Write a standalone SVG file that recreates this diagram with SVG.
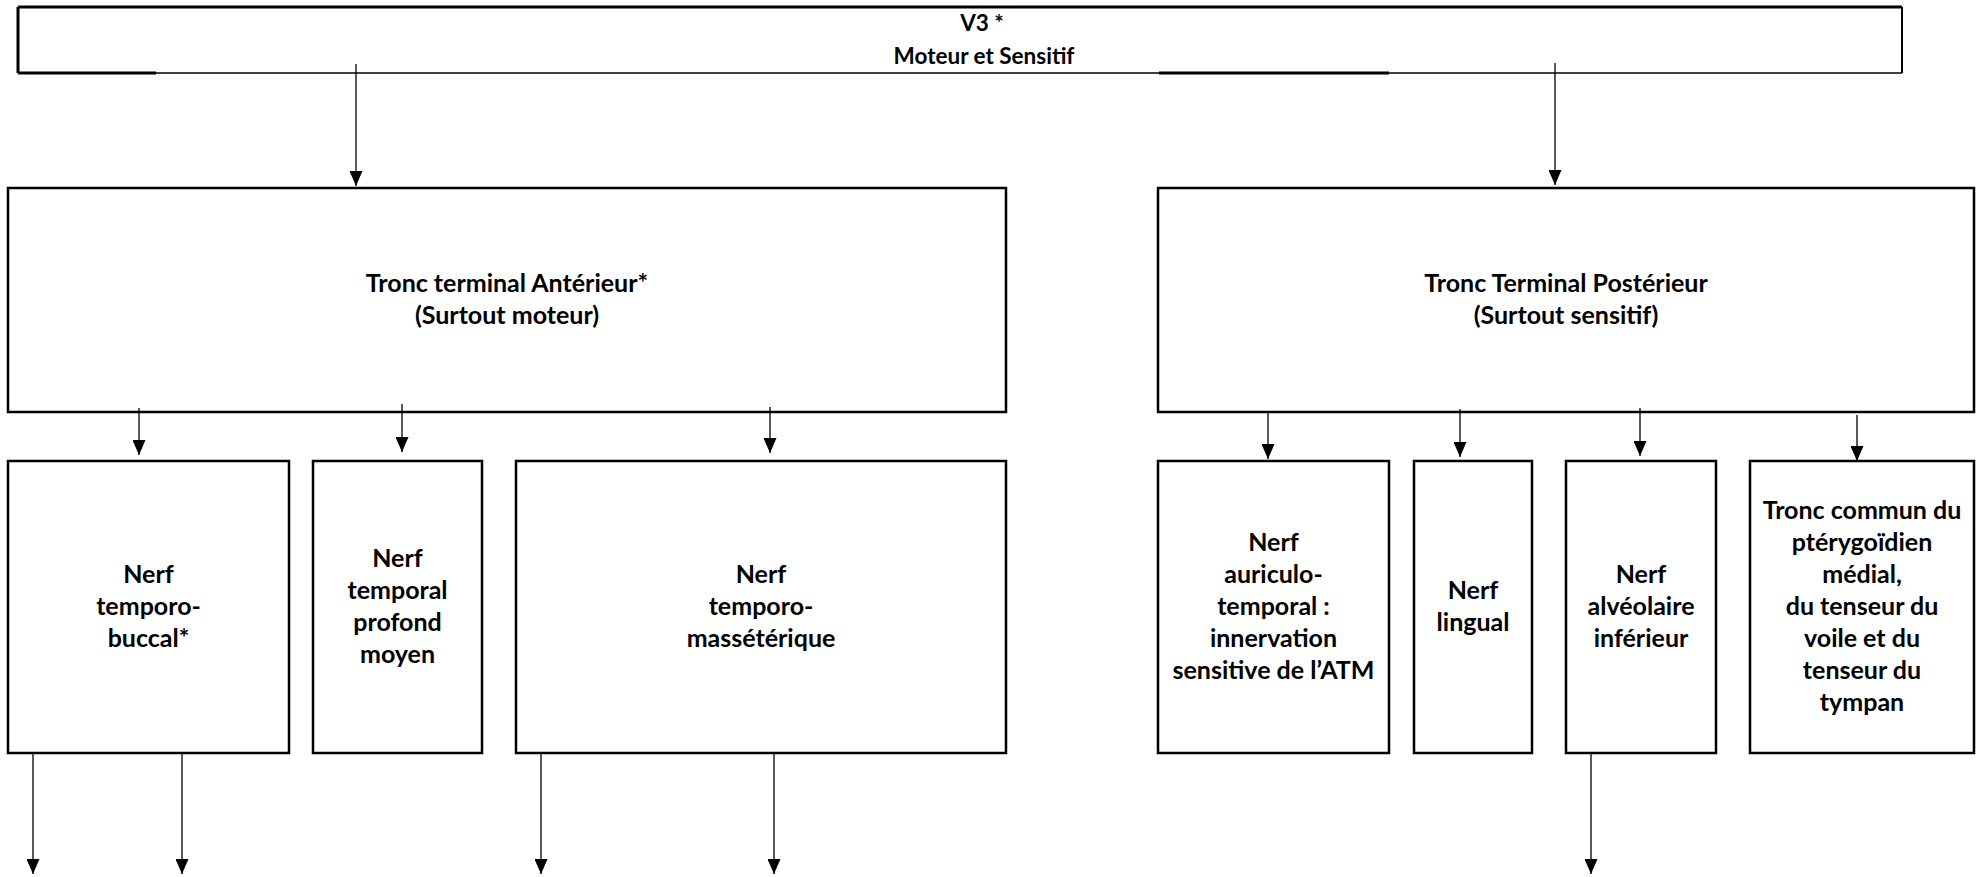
<svg xmlns="http://www.w3.org/2000/svg" width="1986" height="877" viewBox="0 0 1986 877">
<defs>
<marker id="arr" markerUnits="userSpaceOnUse" viewBox="0 0 15 13" refX="15" refY="6.5" markerWidth="15" markerHeight="13" orient="auto">
<path d="M0,0 L15,6.5 L0,13 z" fill="#000"/>
</marker>
<style>
.box{fill:#fff;stroke:#000;stroke-width:2.5}
.edge{fill:none;stroke:#000}
.t{font-family:Lato,"Open Sans","DejaVu Sans",sans-serif;font-weight:bold;font-size:25px;fill:#000;text-anchor:middle}
.tt{font-size:22.5px}
.c{fill:none;stroke:#000;stroke-width:1.3;marker-end:url(#arr)}
</style>
</defs>
<rect width="1986" height="877" fill="#fff"/>

<g id="n-v3">
<rect x="18" y="7" width="1884" height="66" fill="#fff"/>
<path class="edge" stroke-width="3" d="M18,7 H1902 M18,7 V73 M18,73 H156 M1159,73 H1389"/>
<path class="edge" stroke-width="2" d="M1902,7 V73"/>
<path class="edge" stroke-width="1.5" d="M156,73 H1902"/>
<text class="t tt" x="982" y="31">V3 *</text>
<text class="t tt" x="984" y="64">Moteur et Sensitif</text>
</g>

<g id="n-anterieur">
<rect class="box" x="8" y="188" width="998" height="224"/>
<text class="t" x="507" y="292">Tronc terminal Antérieur*</text>
<text class="t" x="507" y="324">(Surtout moteur)</text>
</g>

<g id="n-posterieur">
<rect class="box" x="1158" y="188" width="816" height="224"/>
<text class="t" x="1566" y="292">Tronc Terminal Postérieur</text>
<text class="t" x="1566" y="324">(Surtout sensitif)</text>
</g>

<g id="n-temporo-buccal">
<rect class="box" x="8" y="461" width="281" height="292"/>
<text class="t" x="148.5" y="583">Nerf</text>
<text class="t" x="148.5" y="615">temporo-</text>
<text class="t" x="148.5" y="647">buccal*</text>
</g>

<g id="n-temporal-profond">
<rect class="box" x="313" y="461" width="169" height="292"/>
<text class="t" x="397.5" y="567">Nerf</text>
<text class="t" x="397.5" y="599">temporal</text>
<text class="t" x="397.5" y="631">profond</text>
<text class="t" x="397.5" y="663">moyen</text>
</g>

<g id="n-temporo-masseterique">
<rect class="box" x="516" y="461" width="490" height="292"/>
<text class="t" x="761" y="583">Nerf</text>
<text class="t" x="761" y="615">temporo-</text>
<text class="t" x="761" y="647">massétérique</text>
</g>

<g id="n-auriculo-temporal">
<rect class="box" x="1158" y="461" width="231" height="292"/>
<text class="t" x="1273.5" y="551">Nerf</text>
<text class="t" x="1273.5" y="583">auriculo-</text>
<text class="t" x="1273.5" y="615">temporal :</text>
<text class="t" x="1273.5" y="647">innervation</text>
<text class="t" x="1273.5" y="679">sensitive de l’ATM</text>
</g>

<g id="n-lingual">
<rect class="box" x="1414" y="461" width="118" height="292"/>
<text class="t" x="1473" y="599">Nerf</text>
<text class="t" x="1473" y="631">lingual</text>
</g>

<g id="n-alveolaire">
<rect class="box" x="1566" y="461" width="150" height="292"/>
<text class="t" x="1641" y="583">Nerf</text>
<text class="t" x="1641" y="615">alvéolaire</text>
<text class="t" x="1641" y="647">inférieur</text>
</g>

<g id="n-tronc-commun">
<rect class="box" x="1750" y="461" width="224" height="292"/>
<text class="t" x="1862" y="519">Tronc commun du</text>
<text class="t" x="1862" y="551">ptérygoïdien</text>
<text class="t" x="1862" y="583">médial,</text>
<text class="t" x="1862" y="615">du tenseur du</text>
<text class="t" x="1862" y="647">voile et du</text>
<text class="t" x="1862" y="679">tenseur du</text>
<text class="t" x="1862" y="711">tympan</text>
</g>

<g id="connectors">
<line class="c" x1="356" y1="64" x2="356" y2="186"/>
<line class="c" x1="1555" y1="63" x2="1555" y2="185"/>
<line class="c" x1="139" y1="408" x2="139" y2="455"/>
<line class="c" x1="402" y1="404" x2="402" y2="452"/>
<line class="c" x1="770" y1="407" x2="770" y2="453"/>
<line class="c" x1="1268" y1="413" x2="1268" y2="459"/>
<line class="c" x1="1460" y1="409" x2="1460" y2="457"/>
<line class="c" x1="1640" y1="408" x2="1640" y2="456"/>
<line class="c" x1="1857" y1="415" x2="1857" y2="461"/>
<line class="c" x1="33" y1="753" x2="33" y2="874"/>
<line class="c" x1="182" y1="753" x2="182" y2="874"/>
<line class="c" x1="541" y1="753" x2="541" y2="874"/>
<line class="c" x1="774" y1="753" x2="774" y2="874"/>
<line class="c" x1="1591" y1="753" x2="1591" y2="874"/>
</g>
</svg>
